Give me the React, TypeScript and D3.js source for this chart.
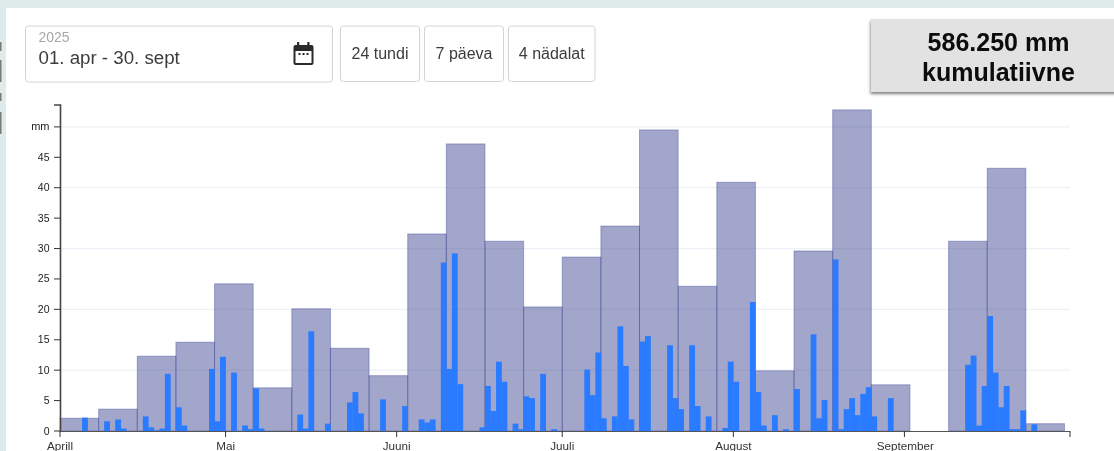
import React from "react";
import * as d3 from "d3";

const weekStarts = d3.range(0, 26).map((i) => i * 7);
const weeklyMm = [2.1, 3.6, 12.3, 14.6, 24.2, 7.1, 20.1, 13.6, 9.1, 32.4, 47.2, 31.2, 20.4, 28.6, 33.7, 49.5, 23.8, 40.9, 9.9, 29.6, 52.8, 7.6, 0, 31.2, 43.2, 1.2];
const dailyIdx = [4, 8, 10, 11, 15, 16, 17, 18, 19, 21, 22, 27, 28, 29, 31, 33, 34, 35, 36, 43, 44, 45, 48, 52, 53, 54, 58, 62, 65, 66, 67, 69, 70, 71, 72, 76, 77, 78, 79, 80, 82, 83, 84, 85, 87, 89, 95, 96, 97, 98, 100, 101, 102, 103, 105, 106, 110, 111, 112, 114, 115, 117, 120, 121, 122, 125, 126, 127, 129, 131, 133, 136, 137, 138, 140, 141, 142, 143, 144, 145, 146, 147, 150, 164, 165, 166, 167, 168, 169, 170, 171, 172, 173, 174, 176];
const dailyMm = [2.2, 1.6, 1.9, 0.4, 2.4, 0.6, 0.1, 0.4, 9.4, 3.9, 0.9, 10.2, 1.6, 12.2, 9.6, 0.9, 0.3, 7.0, 0.4, 2.7, 0.4, 16.4, 1.2, 4.7, 6.4, 2.9, 5.2, 4.1, 1.9, 1.4, 1.9, 27.7, 10.2, 29.2, 7.7, 0.6, 7.4, 3.3, 11.4, 8.1, 1.2, 0.3, 5.7, 5.4, 9.4, 0.3, 10.1, 5.9, 12.9, 2.1, 2.4, 17.2, 10.7, 1.9, 14.7, 15.6, 14.1, 5.4, 3.6, 14.1, 4.1, 2.4, 0.5, 11.4, 8.1, 21.2, 6.4, 0.9, 2.6, 0.3, 6.9, 15.9, 2.1, 5.1, 28.2, 0.3, 3.6, 5.4, 2.6, 6.1, 7.2, 2.4, 5.4, 10.9, 12.4, 0.9, 7.4, 18.9, 9.6, 3.9, 7.4, 0.3, 0.3, 3.4, 1.1];
const monthDays = [0, 30, 61, 91, 122, 153, 183];
const monthLabels = ["Aprill", "Mai", "Juuni", "Juuli", "August", "September", ""];
const yTicks = [0, 5, 10, 15, 20, 25, 30, 35, 40, 45, 50];
const gridTicks = [10, 20, 30, 40, 50];
const presets = ["24 tundi", "7 päeva", "4 nädalat"];

const W = 1114;
const H = 451;
const x = d3.scaleLinear().domain([0, 183]).range([60, 1070]);
const y = d3.scaleLinear().domain([0, 53.6]).range([431, 105]);
const font = "'Liberation Sans', Arial, sans-serif";

export default function App() {
  const presetBoxes = [
    { x: 340.5, w: 79 },
    { x: 424.5, w: 79 },
    { x: 508.5, w: 86.5 },
  ];
  return (
    <svg width={W} height={H} viewBox={`0 0 ${W} ${H}`} style={{ position: "fixed", left: 0, top: 0, display: "block", filter: "blur(0.55px)" }} fontFamily={font}>
      <defs>
        <filter id="sh" x="-10%" y="-10%" width="120%" height="130%">
          <feDropShadow dx="-0.5" dy="2" stdDeviation="1.6" floodColor="#000" floodOpacity="0.5" />
        </filter>
      </defs>
      <rect width={W} height={H} fill="#dfeaea" />
      <rect x={6} y={8} width={W - 6} height={H - 8} fill="#fff" />
      <g fill="#7a7a7a">
        <rect x={0} y={42} width={1.5} height={9} />
        <rect x={0} y={60} width={1.5} height={22} />
        <rect x={0} y={93} width={1.5} height={8} />
        <rect x={0} y={112} width={1.5} height={22} />
      </g>

      <rect x={25.5} y={26} width={307} height={56} rx={3} fill="#fff" stroke="#d4d4d4" />
      <text x={38.5} y={42} fontSize={14} fill="#a8a8a8">2025</text>
      <text x={38.5} y={64} fontSize={18.7} fill="#3c3c3c">01. apr - 30. sept</text>
      <rect x={297} y={42} width={2.2} height={4} fill="#2b2b2b" />
      <rect x={307.3} y={42} width={2.2} height={4} fill="#2b2b2b" />
      <rect x={293.5} y={45} width={20} height={20} rx={2} fill="#2b2b2b" />
      <rect x={295.5} y={51} width={16} height={12} fill="#fff" />
      <rect x={298.5} y={53} width={2} height={2} fill="#2b2b2b" />
      <rect x={302.5} y={53} width={2} height={2} fill="#2b2b2b" />
      <rect x={306.5} y={53} width={2} height={2} fill="#2b2b2b" />
      {presets.map((p, i) => (
        <g key={p}>
          <rect x={presetBoxes[i].x} y={26} width={presetBoxes[i].w} height={55.5} rx={3} fill="#fff" stroke="#d4d4d4" />
          <text x={presetBoxes[i].x + presetBoxes[i].w / 2} y={59} fontSize={16} fill="#3c3c3c" textAnchor="middle">{p}</text>
        </g>
      ))}

      <rect x={871} y={19} width={260} height={73} fill="#e2e2e2" filter="url(#sh)" />
      <text x={998.5} y={50.5} fontSize={25} fontWeight={700} fill="#0c0c0c" textAnchor="middle">586.250 mm</text>
      <text x={998.5} y={80.5} fontSize={25} fontWeight={700} fill="#0c0c0c" textAnchor="middle">kumulatiivne</text>

      {gridTicks.map((t) => (
        <line key={t} x1={60} x2={1070} y1={y(t)} y2={y(t)} stroke="#eef0f8" strokeWidth={1.2} />
      ))}

      {weeklyMm.map((v, i) =>
        v > 0 ? (
          <rect key={i} x={x(weekStarts[i])} y={y(v)} width={x(7) - x(0)} height={y(0) - y(v)} fill="#3d4590" fillOpacity={0.48} stroke="#3d4590" strokeOpacity={0.4} strokeWidth={1} />
        ) : null
      )}
      {dailyMm.map((v, i) => (
        <rect key={i} x={x(dailyIdx[i])} y={y(v)} width={x(1) - x(0) + 0.3} height={y(0) - y(v)} fill="#2a7bff" />
      ))}

      <g stroke="#333" fill="none">
        <path d={`M54 ${y.range()[1]}H60.5V431.5`} strokeWidth={1.6} stroke="#444" />
        <line x1={60} x2={1070} y1={431.5} y2={431.5} strokeWidth={1} stroke="#555" />
        {yTicks.map((t) => (
          <line key={t} x1={54} x2={60} y1={y(t)} y2={y(t)} />
        ))}
        {monthDays.map((d) => (
          <line key={d} x1={x(d)} x2={x(d)} y1={431} y2={437} />
        ))}
      </g>
      {yTicks.map((t) => (
        <text key={t} x={49.5} y={y(t) + 3.5} fontSize={t === 50 ? 11 : 10.5} fill="#222" textAnchor="end">{t === 50 ? "mm" : t}</text>
      ))}
      {monthLabels.map((m, i) => (
        <text key={i} x={x(monthDays[i]) + (i === 5 ? 1 : 0)} y={449.5} fontSize={11.7} fill="#333" textAnchor="middle">{m}</text>
      ))}
    </svg>
  );
}
